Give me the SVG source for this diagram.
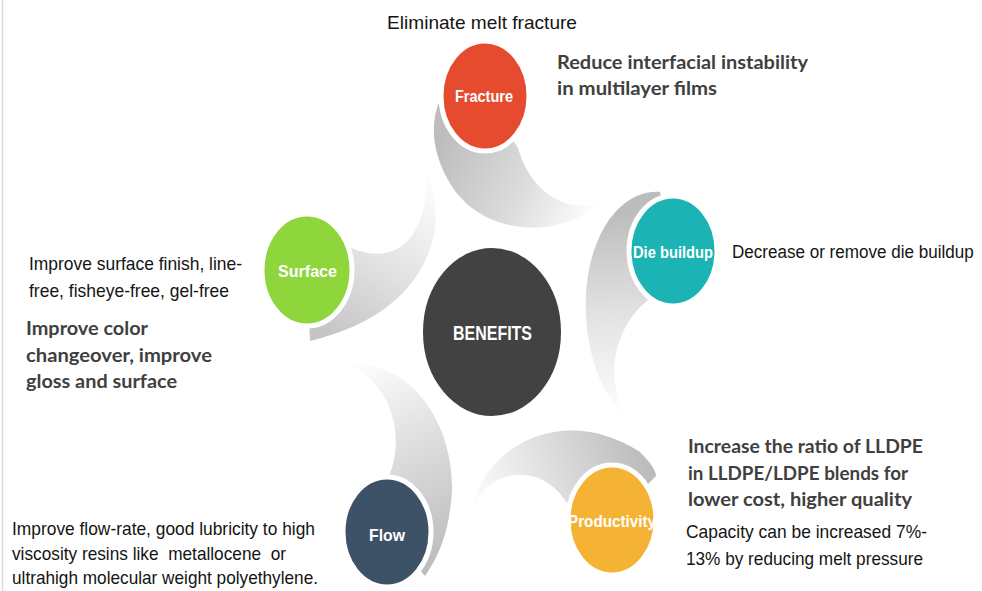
<svg xmlns="http://www.w3.org/2000/svg" width="982" height="591" viewBox="0 0 982 591">
<style>
.node-c{stroke:#ffffff;stroke-width:5}
.lbl{font-family:"Liberation Sans",Arial,sans-serif;font-weight:bold;fill:#ffffff;text-anchor:start}
.bold{font-family:Lato,"Open Sans",sans-serif;font-weight:bold;fill:#404040;font-size:18px}
.norm{font-family:"Liberation Sans",Arial,sans-serif;fill:#141414;font-size:19px}
</style>
<defs>
<linearGradient id="gFr" gradientUnits="userSpaceOnUse" x1="600" y1="205" x2="445" y2="130">
<stop offset="0" stop-color="#ffffff"/><stop offset="0.45" stop-color="#dcdcdc"/><stop offset="1" stop-color="#bdbdbd"/>
</linearGradient>
<linearGradient id="gDb" gradientUnits="userSpaceOnUse" x1="627" y1="417" x2="620" y2="210">
<stop offset="0" stop-color="#ffffff"/><stop offset="0.5" stop-color="#e2e2e2"/><stop offset="1" stop-color="#bcbcbc"/>
</linearGradient>
<linearGradient id="gPr" gradientUnits="userSpaceOnUse" x1="470" y1="517" x2="645" y2="460">
<stop offset="0" stop-color="#ffffff"/><stop offset="0.5" stop-color="#dedede"/><stop offset="1" stop-color="#bcbcbc"/>
</linearGradient>
<linearGradient id="gFl" gradientUnits="userSpaceOnUse" x1="347" y1="363" x2="440" y2="560">
<stop offset="0" stop-color="#ffffff"/><stop offset="0.5" stop-color="#dcdcdc"/><stop offset="1" stop-color="#bdbdbd"/>
</linearGradient>
<linearGradient id="gSu" gradientUnits="userSpaceOnUse" x1="427" y1="172" x2="330" y2="340">
<stop offset="0" stop-color="#ffffff"/><stop offset="0.5" stop-color="#e4e4e4"/><stop offset="1" stop-color="#c4c4c4"/>
</linearGradient>
</defs>
<rect x="0" y="0" width="982" height="591" fill="#ffffff"/>
<line x1="2.5" y1="0" x2="2.5" y2="591" stroke="#dcdcdc" stroke-width="1.5"/>

<g id="connectors">
<path d="M 600,203 C 560,240 478,238 447,178 C 432,150 430,122 440,100 L 485,96 L 518,148 C 528,185 560,215 600,203 Z" fill="url(#gFr)"/>
<path d="M 627,417 C 590,390 572,300 598,240 C 613,205 638,190 660,192 L 673,251 L 648,300 C 620,322 600,372 627,417 Z" fill="url(#gDb)"/>
<path d="M 470,517 C 478,450 560,400 640,452 C 650,462 656,470 656,476 L 612,520 L 566,502 C 540,460 482,468 470,517 Z" fill="url(#gPr)"/>
<path d="M 347,363 C 420,360 462,440 450,510 C 446,540 436,560 425,576 L 387,532 L 388,478 C 402,450 402,390 347,363 Z" fill="url(#gFl)"/>
<path d="M 427,172 C 450,225 432,312 310,341 L 307,270 L 352,248 C 386,264 428,250 427,172 Z" fill="url(#gSu)"/>
</g>

<g id="node-fracture">
<ellipse class="node-c" cx="485" cy="96" rx="44" ry="55" fill="#e64b2f"/>
<text class="lbl" x="455" y="102" font-size="16" textLength="58" lengthAdjust="spacingAndGlyphs" font-weight="normal">Fracture</text>
</g>
<g id="node-diebuildup">
<ellipse class="node-c" cx="673" cy="251" rx="44" ry="55" fill="#1bb3b3"/>
<text class="lbl" x="633" y="258" font-size="17" textLength="80" lengthAdjust="spacingAndGlyphs">Die buildup</text>
</g>
<g id="node-surface">
<ellipse class="node-c" cx="307" cy="270" rx="45" ry="56" fill="#8fd63c"/>
<text class="lbl" x="278" y="277" font-size="17" textLength="59" lengthAdjust="spacingAndGlyphs">Surface</text>
</g>
<g id="node-benefits">
<ellipse cx="492" cy="332" rx="70" ry="85" fill="#424242" stroke="#ffffff" stroke-width="2"/>
<text class="lbl" x="453" y="340" font-size="20" textLength="79" lengthAdjust="spacingAndGlyphs">BENEFITS</text>
</g>
<g id="node-flow">
<ellipse class="node-c" cx="387" cy="532" rx="44" ry="55" fill="#3d5167"/>
<text class="lbl" x="369" y="541" font-size="17" textLength="36" lengthAdjust="spacingAndGlyphs">Flow</text>
</g>
<g id="node-productivity">
<ellipse class="node-c" cx="612" cy="520" rx="44" ry="55" fill="#f4b335"/>
<text class="lbl" x="568" y="527" font-size="17" textLength="88" lengthAdjust="spacingAndGlyphs">Productivity</text>
</g>

<g id="labels">
<text class="norm" x="387" y="29" textLength="190" lengthAdjust="spacingAndGlyphs">Eliminate melt fracture</text>
<text class="bold" x="557" y="69" textLength="251" lengthAdjust="spacingAndGlyphs">Reduce interfacial instability</text>
<text class="bold" x="557" y="95" textLength="160" lengthAdjust="spacingAndGlyphs">in multilayer films</text>
<text class="norm" x="0" y="0" font-size="18" transform="translate(732 258) scale(0.86 1)" textLength="281" lengthAdjust="spacingAndGlyphs">Decrease or remove die buildup</text>
<text class="norm" x="29" y="270" textLength="213" lengthAdjust="spacingAndGlyphs">Improve surface finish, line-</text>
<text class="norm" x="29" y="297" textLength="200" lengthAdjust="spacingAndGlyphs">free, fisheye-free, gel-free</text>
<text class="bold" x="26" y="335" textLength="122" lengthAdjust="spacingAndGlyphs">Improve color</text>
<text class="bold" x="26" y="362" textLength="186" lengthAdjust="spacingAndGlyphs">changeover, improve</text>
<text class="bold" x="26" y="388" textLength="151" lengthAdjust="spacingAndGlyphs">gloss and surface</text>
<text class="bold" x="688" y="453" textLength="235" lengthAdjust="spacingAndGlyphs">Increase the ratio of LLDPE</text>
<text class="bold" x="688" y="480" textLength="220" lengthAdjust="spacingAndGlyphs">in LLDPE/LDPE blends for</text>
<text class="bold" x="688" y="506" textLength="224" lengthAdjust="spacingAndGlyphs">lower cost, higher quality</text>
<text class="norm" x="686" y="538" textLength="241" lengthAdjust="spacingAndGlyphs">Capacity can be increased 7%-</text>
<text class="norm" x="686" y="565" textLength="237" lengthAdjust="spacingAndGlyphs">13% by reducing melt pressure</text>
<text class="norm" x="12" y="535" textLength="303" lengthAdjust="spacingAndGlyphs">Improve flow-rate, good lubricity to high</text>
<text class="norm" x="12" y="560" textLength="274" lengthAdjust="spacingAndGlyphs" xml:space="preserve">viscosity resins like  metallocene  or</text>
<text class="norm" x="12" y="584" font-size="18" textLength="306" lengthAdjust="spacingAndGlyphs">ultrahigh molecular weight polyethylene.</text>
</g>
</svg>
